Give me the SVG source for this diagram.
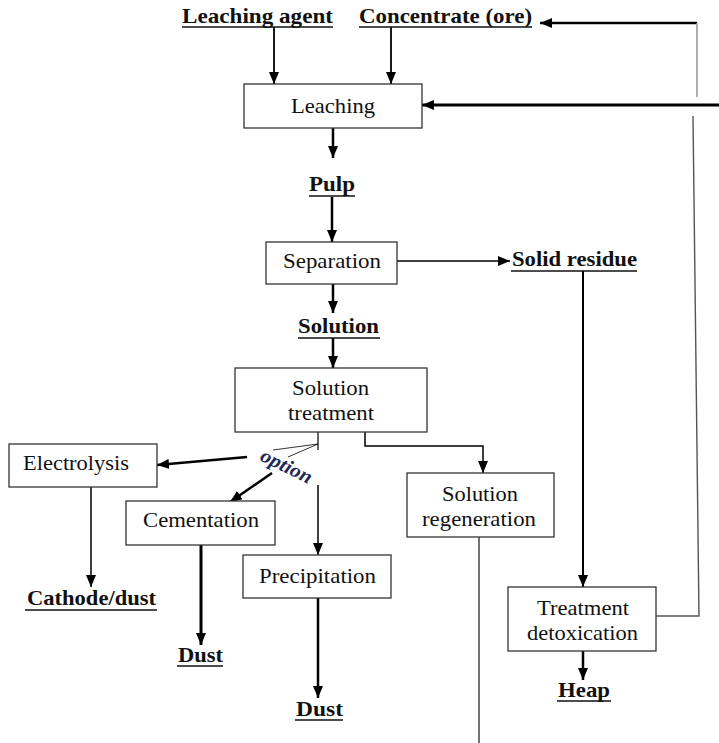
<svg xmlns="http://www.w3.org/2000/svg" width="719" height="743" viewBox="0 0 719 743">
<defs>
<style>
.t{font-family:"Liberation Serif","Times New Roman",serif;font-size:21px;fill:#111;}
.b{font-weight:bold;}
.box{fill:#fff;stroke:#333;stroke-width:1.3;}
.c{fill:none;stroke:#000;}
.u{stroke:#111;stroke-width:1.6;}
</style>
<marker id="ah" markerUnits="userSpaceOnUse" markerWidth="12" markerHeight="10" refX="12" refY="5" orient="auto">
<path d="M0,0 L12,5 L0,10 z" fill="#000"/>
</marker>
</defs>
<rect width="719" height="743" fill="#fff"/>

<g id="connectors">
<line class="c" x1="274" y1="27" x2="274" y2="84" stroke-width="1.8" marker-end="url(#ah)"/>
<line class="c" x1="391" y1="27" x2="391" y2="84" stroke-width="1.8" marker-end="url(#ah)"/>
<line class="c" x1="697" y1="23" x2="540" y2="23" stroke-width="2.5" marker-end="url(#ah)"/>
<line x1="697" y1="23" x2="697" y2="97" stroke="#999" stroke-width="1.6"/>
<line class="c" x1="719" y1="105" x2="422" y2="105" stroke-width="3" marker-end="url(#ah)"/>
<path d="M656,616 H699 L693,116" fill="none" stroke="#555" stroke-width="1.4"/>
<line class="c" x1="333" y1="128" x2="333" y2="158" stroke-width="2.5" marker-end="url(#ah)"/>
<line class="c" x1="332" y1="197" x2="332" y2="242" stroke-width="2.5" marker-end="url(#ah)"/>
<line class="c" x1="397" y1="261" x2="510" y2="261" stroke-width="1.5" marker-end="url(#ah)"/>
<line class="c" x1="333" y1="284" x2="333" y2="313" stroke-width="2.5" marker-end="url(#ah)"/>
<line class="c" x1="333" y1="338" x2="333" y2="368" stroke-width="2.5" marker-end="url(#ah)"/>
<line class="c" x1="583" y1="271" x2="583" y2="587" stroke-width="2" marker-end="url(#ah)"/>
<line class="c" x1="318" y1="432" x2="318" y2="450" stroke-width="1.2"/>
<line class="c" x1="318" y1="444" x2="273" y2="450" stroke-width="0.8"/>
<line class="c" x1="318" y1="444" x2="288" y2="457" stroke-width="0.8"/>
<line class="c" x1="247" y1="457" x2="157" y2="465" stroke-width="2.5" marker-end="url(#ah)"/>
<line class="c" x1="272" y1="473" x2="230" y2="502" stroke-width="2.5" marker-end="url(#ah)"/>
<line class="c" x1="318" y1="485" x2="318" y2="555" stroke-width="1.5" marker-end="url(#ah)"/>
<path class="c" d="M365,432 V446 H483 V473" stroke-width="1.5" marker-end="url(#ah)"/>
<line class="c" x1="91" y1="487" x2="91" y2="587" stroke-width="1.5" marker-end="url(#ah)"/>
<line class="c" x1="201" y1="545" x2="201" y2="645" stroke-width="3" marker-end="url(#ah)"/>
<line class="c" x1="318" y1="598" x2="318" y2="698" stroke-width="2.5" marker-end="url(#ah)"/>
<line class="c" x1="479" y1="530" x2="479" y2="743" stroke-width="1.1"/>
<line class="c" x1="583" y1="651" x2="583" y2="680" stroke-width="2.5" marker-end="url(#ah)"/>
</g>

<g id="leaching-agent">
<text class="t b" x="182" y="23" textLength="151" lengthAdjust="spacingAndGlyphs">Leaching agent</text>
<line class="u" x1="182" y1="27" x2="333" y2="27"/>
</g>
<g id="concentrate">
<text class="t b" x="359" y="23" textLength="173" lengthAdjust="spacingAndGlyphs">Concentrate (ore)</text>
<line class="u" x1="359" y1="27" x2="532" y2="27"/>
</g>
<g id="leaching">
<rect class="box" x="244" y="84" width="178" height="44"/>
<text class="t" x="291" y="113" textLength="84" lengthAdjust="spacingAndGlyphs">Leaching</text>
</g>
<g id="pulp">
<text class="t b" x="309" y="191" textLength="46" lengthAdjust="spacingAndGlyphs">Pulp</text>
<line class="u" x1="309" y1="196" x2="355" y2="196"/>
</g>
<g id="separation">
<rect class="box" x="266" y="242" width="131" height="42"/>
<text class="t" x="283" y="268" textLength="98" lengthAdjust="spacingAndGlyphs">Separation</text>
</g>
<g id="solid-residue">
<text class="t b" x="512" y="266" textLength="125" lengthAdjust="spacingAndGlyphs">Solid residue</text>
<line class="u" x1="511" y1="271" x2="637" y2="271"/>
</g>
<g id="solution">
<text class="t b" x="298" y="333" textLength="81" lengthAdjust="spacingAndGlyphs">Solution</text>
<line class="u" x1="298" y1="338" x2="380" y2="338"/>
</g>
<g id="solution-treatment">
<rect class="box" x="235" y="368" width="192" height="64"/>
<text class="t" x="292" y="395" textLength="77" lengthAdjust="spacingAndGlyphs">Solution</text>
<text class="t" x="288" y="420" textLength="86" lengthAdjust="spacingAndGlyphs">treatment</text>
</g>
<g id="option">
<text x="259" y="460" transform="rotate(26 259 460)" font-family="Liberation Serif, serif" font-size="20" font-style="italic" font-weight="bold" fill="#1f2a55" textLength="55" lengthAdjust="spacingAndGlyphs">option</text>
</g>
<g id="electrolysis">
<rect class="box" x="9" y="444" width="148" height="43"/>
<text class="t" x="23" y="470" textLength="106" lengthAdjust="spacingAndGlyphs">Electrolysis</text>
</g>
<g id="cementation">
<rect class="box" x="126" y="501" width="149" height="44"/>
<text class="t" x="143" y="527" textLength="116" lengthAdjust="spacingAndGlyphs">Cementation</text>
</g>
<g id="cathode-dust">
<text class="t b" x="27" y="605" textLength="129" lengthAdjust="spacingAndGlyphs">Cathode/dust</text>
<line class="u" x1="25" y1="610" x2="157" y2="610"/>
</g>
<g id="precipitation">
<rect class="box" x="243" y="555" width="148" height="43"/>
<text class="t" x="259" y="583" textLength="117" lengthAdjust="spacingAndGlyphs">Precipitation</text>
</g>
<g id="dust-cementation">
<text class="t b" x="178" y="662" textLength="45" lengthAdjust="spacingAndGlyphs">Dust</text>
<line class="u" x1="177" y1="666" x2="223" y2="666"/>
</g>
<g id="dust-precipitation">
<text class="t b" x="296" y="716" textLength="47" lengthAdjust="spacingAndGlyphs">Dust</text>
<line class="u" x1="295" y1="720" x2="343" y2="720"/>
</g>
<g id="solution-regeneration">
<rect class="box" x="407" y="473" width="147" height="64"/>
<text class="t" x="442" y="501" textLength="76" lengthAdjust="spacingAndGlyphs">Solution</text>
<text class="t" x="422" y="526" textLength="114" lengthAdjust="spacingAndGlyphs">regeneration</text>
</g>
<g id="treatment-detoxication">
<rect class="box" x="508" y="587" width="148" height="64"/>
<text class="t" x="537" y="615" textLength="92" lengthAdjust="spacingAndGlyphs">Treatment</text>
<text class="t" x="527" y="640" textLength="111" lengthAdjust="spacingAndGlyphs">detoxication</text>
</g>
<g id="heap">
<text class="t b" x="558" y="697" textLength="52" lengthAdjust="spacingAndGlyphs">Heap</text>
<line class="u" x1="557" y1="701" x2="611" y2="701"/>
</g>
</svg>
